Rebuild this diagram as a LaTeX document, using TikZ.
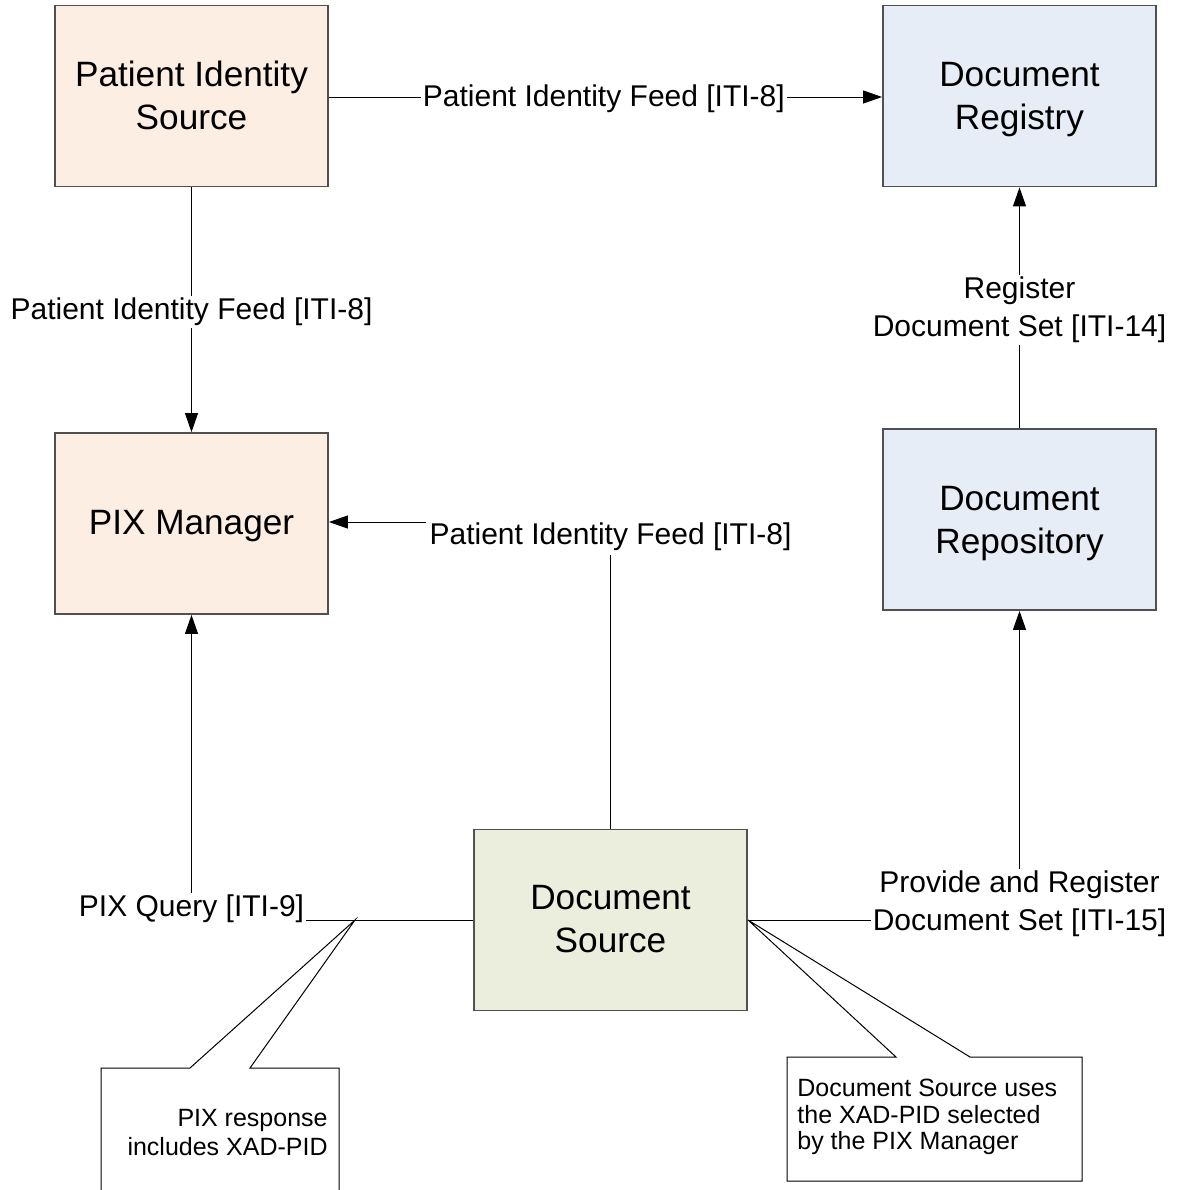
\documentclass[tikz,border=0pt]{standalone}
\usepackage{fontspec}
\setmainfont{Liberation Sans}
\usetikzlibrary{arrows.meta}
\definecolor{peach}{HTML}{FDEEE3}
\definecolor{skyfill}{HTML}{E7EDF7}
\definecolor{sagefill}{HTML}{EBEDDD}
\definecolor{edgegray}{HTML}{505050}
% struts that keep the two-line box captions evenly placed
\newcommand\captop{\rule{0pt}{18.5pt}}
\newcommand\capbot{\rule[-6.45pt]{0pt}{0pt}}
\tikzset{
  actor/.style={draw=edgegray, line width=0.9pt, minimum width=136.5pt, minimum height=90.5pt,
    inner sep=0pt, align=center, font=\fontsize{17.6}{21.5}\selectfont},
  flow/.style={draw=black, line width=0.5pt, -{Triangle[length=9.5pt,width=6.5pt]}},
  tlabel/.style={fill=white, inner sep=1pt, align=center, font=\fontsize{15}{19}\selectfont},
  note/.style={draw=black, line width=0.5pt, fill=white},
  notetext/.style={inner sep=0pt, font=\fontsize{12.5}{13.2}\selectfont}
}
\begin{document}
\begin{tikzpicture}[x=0.5pt,y=-0.5pt]
\useasboundingbox (0,0) rectangle (1179,1190);

% actors
\node[actor, fill=peach]    (pis)  at (191.5,96)  {\captop Patient Identity\\Source\capbot};
\node[actor, fill=skyfill]  (reg)  at (1019.5,96) {\captop Document\\Registry\capbot};
\node[actor, fill=peach]    (pix)  at (191.5,523.5) {\rule{0pt}{17pt}PIX Manager\capbot};
\node[actor, fill=skyfill]  (rep)  at (1019.5,519.5) {\captop Document\\Repository\capbot};
\node[actor, fill=sagefill] (src)  at (610.5,920) {\rule{0pt}{17.5pt}Document\\Source\capbot};

% Patient Identity Source -> Document Registry
\draw[flow] (pis.east |- 0,97) -- (reg.west |- 0,97)
  node[tlabel, pos=0.497, yshift=-1pt] (l1) {Patient Identity Feed [ITI-8]};

% Patient Identity Source -> PIX Manager
\draw[flow] (pis.south) -- (pix.north)
  node[tlabel, pos=0.5, yshift=-1pt] (l2) {Patient Identity Feed [ITI-8]};

% Document Source -> PIX Manager
\coordinate (c3) at (610.5,522);
\draw[flow] (src.north) -- (c3) -- (pix.east |- c3);
\node[tlabel, inner sep=2pt] (l3) at (610.5,537) {Patient Identity Feed [ITI-8]};

% Document Repository -> Document Registry
\draw[flow] (rep.north) -- (reg.south)
  node[tlabel, pos=0.5, yshift=-1pt] (l4) {Register\\Document Set [ITI-14]};

% Document Source -> PIX Manager (query)
\coordinate (c5) at (191.5,920);
\draw[flow] (src.west) -- (c5) -- (pix.south);
\node[tlabel] (l5) at (191.5,909) {PIX Query [ITI-9]};

% Document Source -> Document Repository
\coordinate (c6) at (1019.5,920);
\draw[flow] (src.east) -- (c6) -- (rep.south);
\node[tlabel] (l6) at (1019.5,904) {Provide and Register\\Document Set [ITI-15]};

% callout on the query
\coordinate (p1) at (355,920);
\draw[note] (101,1200) -- (101,1068) -- (190,1068) -- (p1) -- (250,1068) -- (339,1068) -- (339,1200);
\node[notetext, align=right, anchor=north east, font=\fontsize{12.5}{14.5}\selectfont] (n1) at (328,1109)
  {PIX response\\includes XAD-PID};

% callout on the provide-and-register transaction
\coordinate (p2) at (748,920);
\draw[note] (787,1057) -- (896,1057) -- (p2) -- (970,1057) -- (1082,1057) -- (1082,1181) -- (787,1181) -- cycle;
\node[notetext, align=left, anchor=north west] (n2) at (797,1079)
  {Document Source uses\\the XAD-PID selected\\by the PIX Manager};
\end{tikzpicture}
\end{document}
